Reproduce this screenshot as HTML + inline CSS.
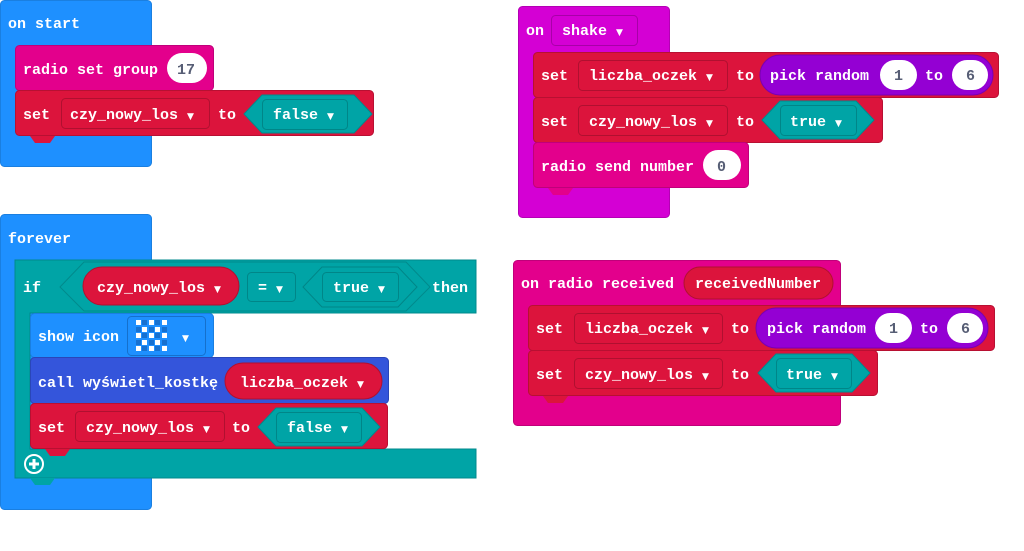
<!DOCTYPE html>
<html><head><meta charset="utf-8"><style>
html,body{margin:0;padding:0;background:#fff;width:1024px;height:551px;overflow:hidden}
svg text{font-family:"Liberation Mono","DejaVu Sans Mono",monospace;font-weight:bold;font-size:15px;fill:#fff}
.d{font-family:"DejaVu Sans",sans-serif;font-size:9px}
.n{fill:#575e75}
</style></head><body>
<svg width="1024" height="551" viewBox="0 0 1024 551" xmlns="http://www.w3.org/2000/svg">
<!-- on start -->
<rect x="0.5" y="0.5" width="151" height="166" rx="4" fill="#1e90ff" stroke="#1a7fe0"/>
<text x="8" y="28">on start</text>
<rect x="15.5" y="45.5" width="198" height="45" rx="4" fill="#e3008c" stroke="#c0007a"/>
<text x="23" y="74">radio set group</text>
<rect x="167" y="53" width="40" height="30" rx="15" fill="#fff"/>
<text x="177" y="74" class="n">17</text>
<rect x="15.5" y="90.5" width="358" height="45" rx="4" fill="#dc143c" stroke="#b81032"/>
<path d="M30 136 l5 7 h15 l5 -7z" fill="#dc143c"/>
<text x="23" y="119">set</text>
<rect x="61.5" y="98.5" width="148" height="30" rx="4" fill="#dc143c" stroke="#b01030"/>
<text x="70" y="119">czy_nowy_los <tspan class="d">▼</tspan></text>
<text x="218" y="119">to</text>
<polygon points="244,114 262,95 354,95 372,114 354,133 262,133" fill="#00a4a6" stroke="#008a8c"/>
<rect x="262.5" y="99.5" width="85" height="30" rx="4" fill="#00a4a6" stroke="#008688"/>
<text x="273" y="119">false <tspan class="d">▼</tspan></text>

<!-- forever -->
<rect x="0.5" y="214.5" width="151" height="295" rx="4" fill="#1e90ff" stroke="#1a7fe0"/>
<text x="8" y="243">forever</text>
<path d="M15 260 H476 V313 H30 V449 H476 V478 H15 Z" fill="#00a4a6" stroke="#008a8c"/>
<path d="M30 478 l5 7 h15 l5 -7z" fill="#00a4a6"/>
<text x="23" y="292">if</text>
<polygon points="60,287 84,262 406,262 430,287 406,311 84,311" fill="#00a4a6" stroke="#008a8c"/>
<rect x="83" y="267" width="156" height="38" rx="19" fill="#dc143c" stroke="#b01030"/>
<text x="97" y="292">czy_nowy_los <tspan class="d">▼</tspan></text>
<rect x="247.5" y="272.5" width="48" height="29" rx="4" fill="#00a4a6" stroke="#008688"/>
<text x="258" y="292">= <tspan class="d">▼</tspan></text>
<polygon points="303,287 322,267 398,267 417,287 398,307 322,307" fill="#00a4a6" stroke="#008688"/>
<rect x="322.5" y="272.5" width="76" height="29" rx="4" fill="#00a4a6" stroke="#008688"/>
<text x="333" y="292">true <tspan class="d">▼</tspan></text>
<text x="432" y="292">then</text>
<rect x="30.5" y="313.5" width="183" height="44" rx="4" fill="#1e90ff" stroke="#1a7fe0"/>
<text x="38" y="341">show icon</text>
<rect x="127.5" y="316.5" width="78" height="39" rx="4" fill="#1e90ff" stroke="#1570cc"/>
<g fill="#fff">
<rect x="136" y="320" width="5" height="5"/><rect x="149" y="320" width="5" height="5"/><rect x="162" y="320" width="5" height="5"/>
<rect x="142" y="327" width="5" height="5"/><rect x="155" y="327" width="5" height="5"/>
<rect x="136" y="333" width="5" height="5"/><rect x="149" y="333" width="5" height="5"/><rect x="162" y="333" width="5" height="5"/>
<rect x="142" y="340" width="5" height="5"/><rect x="155" y="340" width="5" height="5"/>
<rect x="136" y="346" width="5" height="5"/><rect x="149" y="346" width="5" height="5"/><rect x="162" y="346" width="5" height="5"/>
</g>
<g fill="#1670d0">
<rect x="142" y="320" width="5" height="5"/><rect x="155" y="320" width="5" height="5"/>
<rect x="136" y="327" width="5" height="5"/><rect x="149" y="327" width="5" height="5"/><rect x="162" y="327" width="5" height="5"/>
<rect x="142" y="333" width="5" height="5"/><rect x="155" y="333" width="5" height="5"/>
<rect x="136" y="340" width="5" height="5"/><rect x="149" y="340" width="5" height="5"/><rect x="162" y="340" width="5" height="5"/>
<rect x="142" y="346" width="5" height="5"/><rect x="155" y="346" width="5" height="5"/>
</g>
<text x="182" y="341" class="d">▼</text>
<rect x="30.5" y="357.5" width="358" height="46" rx="4" fill="#3455db" stroke="#2a46b8"/>
<text x="38" y="387">call wyświetl_kostkę</text>
<rect x="225" y="363" width="157" height="36" rx="18" fill="#dc143c" stroke="#b01030"/>
<text x="240" y="387">liczba_oczek <tspan class="d">▼</tspan></text>
<rect x="30.5" y="403.5" width="357" height="45" rx="4" fill="#dc143c" stroke="#b81032"/>
<path d="M45 449 l5 7 h15 l5 -7z" fill="#dc143c"/>
<text x="38" y="432">set</text>
<rect x="75.5" y="411.5" width="149" height="30" rx="4" fill="#dc143c" stroke="#b01030"/>
<text x="86" y="432">czy_nowy_los <tspan class="d">▼</tspan></text>
<text x="232" y="432">to</text>
<polygon points="258,427 276,408 362,408 380,427 362,446 276,446" fill="#00a4a6" stroke="#008a8c"/>
<rect x="276.5" y="412.5" width="85" height="30" rx="4" fill="#00a4a6" stroke="#008688"/>
<text x="287" y="432">false <tspan class="d">▼</tspan></text>
<circle cx="34" cy="464" r="9" fill="none" stroke="#fff" stroke-width="2"/>
<path d="M34 459 v10 M29 464 h10" stroke="#fff" stroke-width="3"/>

<!-- on shake -->
<rect x="518.5" y="6.5" width="151" height="211" rx="4" fill="#d400d4" stroke="#b400b4"/>
<text x="526" y="35">on</text>
<rect x="551.5" y="15.5" width="86" height="30" rx="4" fill="#d400d4" stroke="#a800a8"/>
<text x="562" y="35">shake <tspan class="d">▼</tspan></text>
<rect x="533.5" y="52.5" width="465" height="45" rx="4" fill="#dc143c" stroke="#b81032"/>
<text x="541" y="80">set</text>
<rect x="578.5" y="60.5" width="149" height="30" rx="4" fill="#dc143c" stroke="#b01030"/>
<text x="589" y="80">liczba_oczek <tspan class="d">▼</tspan></text>
<text x="736" y="80">to</text>
<rect x="760" y="55" width="233" height="40" rx="20" fill="#9400d3" stroke="#7a00b0"/>
<text x="770" y="80">pick random</text>
<rect x="880" y="60" width="37" height="30" rx="15" fill="#fff"/>
<text x="894" y="80" class="n">1</text>
<text x="925" y="80">to</text>
<rect x="952" y="60" width="36" height="30" rx="15" fill="#fff"/>
<text x="966" y="80" class="n">6</text>
<rect x="533.5" y="97.5" width="349" height="45" rx="4" fill="#dc143c" stroke="#b81032"/>
<text x="541" y="126">set</text>
<rect x="578.5" y="105.5" width="149" height="30" rx="4" fill="#dc143c" stroke="#b01030"/>
<text x="589" y="126">czy_nowy_los <tspan class="d">▼</tspan></text>
<text x="736" y="126">to</text>
<polygon points="762,120 780,101 856,101 874,120 856,139 780,139" fill="#00a4a6" stroke="#008a8c"/>
<rect x="780.5" y="105.5" width="76" height="30" rx="4" fill="#00a4a6" stroke="#008688"/>
<text x="790" y="126">true <tspan class="d">▼</tspan></text>
<rect x="533.5" y="142.5" width="215" height="45" rx="4" fill="#e3008c" stroke="#c0007a"/>
<path d="M548 188 l5 7 h15 l5 -7z" fill="#e3008c"/>
<text x="541" y="171">radio send number</text>
<rect x="703" y="150" width="38" height="30" rx="15" fill="#fff"/>
<text x="717" y="171" class="n">0</text>

<!-- on radio received -->
<rect x="513.5" y="260.5" width="327" height="165" rx="4" fill="#e3008c" stroke="#c0007a"/>
<text x="521" y="288">on radio received</text>
<rect x="684" y="267" width="149" height="32" rx="16" fill="#dc143c" stroke="#b01030"/>
<text x="695" y="288">receivedNumber</text>
<rect x="528.5" y="305.5" width="466" height="45" rx="4" fill="#dc143c" stroke="#b81032"/>
<text x="536" y="333">set</text>
<rect x="574.5" y="313.5" width="148" height="30" rx="4" fill="#dc143c" stroke="#b01030"/>
<text x="585" y="333">liczba_oczek <tspan class="d">▼</tspan></text>
<text x="731" y="333">to</text>
<rect x="756" y="308" width="232" height="40" rx="20" fill="#9400d3" stroke="#7a00b0"/>
<text x="767" y="333">pick random</text>
<rect x="875" y="313" width="37" height="30" rx="15" fill="#fff"/>
<text x="889" y="333" class="n">1</text>
<text x="920" y="333">to</text>
<rect x="947" y="313" width="36" height="30" rx="15" fill="#fff"/>
<text x="961" y="333" class="n">6</text>
<rect x="528.5" y="350.5" width="349" height="45" rx="4" fill="#dc143c" stroke="#b81032"/>
<path d="M543 396 l5 7 h15 l5 -7z" fill="#dc143c"/>
<text x="536" y="379">set</text>
<rect x="574.5" y="358.5" width="148" height="30" rx="4" fill="#dc143c" stroke="#b01030"/>
<text x="585" y="379">czy_nowy_los <tspan class="d">▼</tspan></text>
<text x="731" y="379">to</text>
<polygon points="758,373 776,354 852,354 870,373 852,392 776,392" fill="#00a4a6" stroke="#008a8c"/>
<rect x="776.5" y="358.5" width="75" height="30" rx="4" fill="#00a4a6" stroke="#008688"/>
<text x="786" y="379">true <tspan class="d">▼</tspan></text>
</svg>
</body></html>
